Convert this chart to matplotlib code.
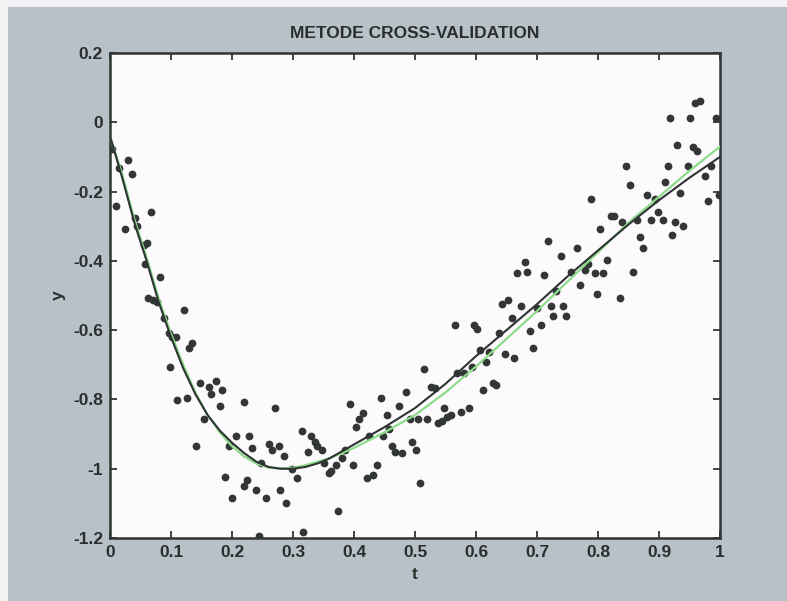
import matplotlib
matplotlib.use("Agg")
import matplotlib.pyplot as plt
from matplotlib.patches import Rectangle

# Observed data (t, y)
t_obs = [0.003, 0.010, 0.014, 0.025, 0.030, 0.036, 0.041, 0.044, 0.055, 0.061,
         0.067, 0.058, 0.063, 0.071, 0.077, 0.082, 0.088, 0.096, 0.102, 0.108,
         0.099, 0.110, 0.121, 0.127, 0.129, 0.135, 0.141, 0.148, 0.154, 0.162,
         0.166, 0.173, 0.180, 0.184, 0.189, 0.195, 0.200, 0.207, 0.219, 0.219,
         0.224, 0.228, 0.232, 0.240, 0.244, 0.248, 0.255, 0.260, 0.266, 0.271,
         0.277, 0.279, 0.285, 0.289, 0.299, 0.306, 0.314, 0.316, 0.324, 0.330,
         0.336, 0.339, 0.347, 0.351, 0.359, 0.363, 0.370, 0.373, 0.380, 0.386,
         0.394, 0.399, 0.404, 0.409, 0.414, 0.421, 0.425, 0.431, 0.437, 0.444,
         0.448, 0.454, 0.458, 0.463, 0.468, 0.474, 0.478, 0.485, 0.491, 0.495,
         0.501, 0.505, 0.509, 0.515, 0.519, 0.526, 0.532, 0.537, 0.544, 0.548,
         0.552, 0.559, 0.565, 0.569, 0.575, 0.581, 0.588, 0.593, 0.597, 0.601,
         0.606, 0.611, 0.616, 0.622, 0.628, 0.633, 0.638, 0.643, 0.647, 0.652,
         0.659, 0.663, 0.667, 0.674, 0.680, 0.684, 0.688, 0.694, 0.700, 0.707,
         0.712, 0.718, 0.723, 0.726, 0.731, 0.740, 0.743, 0.748, 0.756, 0.766,
         0.770, 0.778, 0.784, 0.789, 0.795, 0.799, 0.804, 0.809, 0.815, 0.822,
         0.827, 0.836, 0.840, 0.846, 0.852, 0.858, 0.864, 0.869, 0.874, 0.881,
         0.887, 0.893, 0.899, 0.906, 0.910, 0.914, 0.918, 0.922, 0.926, 0.930,
         0.934, 0.940, 0.947, 0.951, 0.955, 0.959, 0.963, 0.967, 0.975, 0.981,
         0.986, 0.994, 0.998]
y_obs = [-0.077, -0.243, -0.132, -0.309, -0.110, -0.149, -0.276, -0.298, -0.353, -0.348,
         -0.259, -0.409, -0.508, -0.514, -0.519, -0.447, -0.564, -0.608, -0.619, -0.619,
         -0.707, -0.802, -0.541, -0.796, -0.652, -0.636, -0.934, -0.752, -0.857, -0.763,
         -0.785, -0.746, -0.818, -0.774, -1.023, -0.934, -1.084, -0.907, -0.807, -1.051,
         -1.034, -0.907, -0.940, -1.062, -1.194, -0.984, -1.084, -0.929, -0.945, -0.824,
         -0.934, -1.062, -0.962, -1.100, -1.001, -1.028, -0.890, -1.183, -0.951, -0.907,
         -0.923, -0.934, -0.945, -0.984, -1.012, -1.006, -0.990, -1.123, -0.968, -0.945,
         -0.813, -0.990, -0.879, -0.857, -0.840, -1.028, -0.907, -1.017, -0.990, -0.796,
         -0.907, -0.846, -0.885, -0.934, -0.951, -0.818, -0.956, -0.779, -0.857, -0.923,
         -0.945, -0.857, -1.040, -0.713, -0.857, -0.763, -0.768, -0.868, -0.862, -0.824,
         -0.851, -0.846, -0.586, -0.724, -0.835, -0.724, -0.824, -0.707, -0.586, -0.597,
         -0.658, -0.774, -0.691, -0.663, -0.752, -0.757, -0.608, -0.525, -0.669, -0.514,
         -0.564, -0.680, -0.436, -0.530, -0.403, -0.431, -0.602, -0.652, -0.536, -0.586,
         -0.442, -0.342, -0.530, -0.558, -0.486, -0.387, -0.530, -0.558, -0.431, -0.364,
         -0.470, -0.425, -0.409, -0.221, -0.436, -0.497, -0.309, -0.436, -0.398, -0.270,
         -0.270, -0.508, -0.287, -0.126, -0.182, -0.431, -0.281, -0.331, -0.364, -0.209,
         -0.281, -0.221, -0.259, -0.281, -0.171, -0.126, 0.012, -0.326, -0.287, -0.066,
         -0.204, -0.298, -0.126, 0.012, -0.071, 0.056, -0.082, 0.062, -0.154, -0.226,
         -0.126, 0.012, -0.209]

# Cross-validation estimate (dark curve)
t_fit = [0.00, 0.02, 0.04, 0.06, 0.08, 0.10, 0.12, 0.14, 0.16, 0.18, 0.20,
         0.22, 0.24, 0.26, 0.28, 0.30, 0.32, 0.34, 0.36, 0.38, 0.40, 0.45,
         0.50, 0.55, 0.60, 0.65, 0.70, 0.75, 0.80, 0.85, 0.90, 0.95, 1.00]
y_cv = [-0.04, -0.16, -0.29, -0.40, -0.52, -0.62, -0.71, -0.785, -0.845, -0.89, -0.925,
        -0.955, -0.98, -0.995, -1.0, -1.0, -0.995, -0.985, -0.97, -0.95, -0.93, -0.88,
        -0.825, -0.755, -0.675, -0.60, -0.525, -0.445, -0.37, -0.295, -0.225, -0.16, -0.10]
# Reference curve (green)
y_true = [-0.04, -0.15, -0.28, -0.39, -0.51, -0.61, -0.70, -0.78, -0.845, -0.895, -0.935,
          -0.965, -0.985, -0.997, -1.0, -0.997, -0.99, -0.98, -0.97, -0.955, -0.94, -0.895,
          -0.845, -0.78, -0.705, -0.625, -0.545, -0.46, -0.375, -0.29, -0.215, -0.14, -0.07]

x_ticks = [0, 0.1, 0.2, 0.3, 0.4, 0.5, 0.6, 0.7, 0.8, 0.9, 1]
x_tick_labels = ["0", "0.1", "0.2", "0.3", "0.4", "0.5", "0.6", "0.7", "0.8", "0.9", "1"]
y_ticks = [0.2, 0, -0.2, -0.4, -0.6, -0.8, -1, -1.2]
y_tick_labels = ["0.2", "0", "-0.2", "-0.4", "-0.6", "-0.8", "-1", "-1.2"]

font = ["Liberation Sans Narrow", "Liberation Sans", "DejaVu Sans"]
plt.rcParams["font.family"] = font

W, H = 787, 601
fig = plt.figure(figsize=(W / 100, H / 100), dpi=100, facecolor="#f4f2f5")
fig.add_artist(Rectangle((8 / W, 0), 1 - 8 / W, 1 - 7 / H, transform=fig.transFigure,
                         facecolor="#b8c1c7", edgecolor="none", zorder=-10))

ax = fig.add_axes([110 / W, (H - 538) / H, 610 / W, 485 / H])
ax.set_zorder(5)
ax.set_facecolor("#fdfafd")

ax.plot(t_obs, y_obs, "o", color="#333636", markersize=5.6, markeredgewidth=0, zorder=3)
ax.plot(t_fit, y_true, "-", color="#8ddc8a", linewidth=1.6, zorder=4)
ax.plot(t_fit, y_cv, "-", color="#2e3433", linewidth=1.5, zorder=5)

ax.set_xlim(0, 1)
ax.set_ylim(-1.2, 0.2)
ax.set_xticks(x_ticks)
ax.set_xticklabels(x_tick_labels)
ax.set_yticks(y_ticks)
ax.set_yticklabels(y_tick_labels)
ax.tick_params(direction="in", length=5, width=1.3, colors="#2f3535",
               top=True, right=True, labelsize=12.5, pad=5)
for lab in ax.get_xticklabels() + ax.get_yticklabels():
    lab.set_fontweight("bold")
    lab.set_color("#2a2e2e")
for sp in ax.spines.values():
    sp.set_linewidth(1.8)
    sp.set_color("#2f3535")

ax.set_title("METODE CROSS-VALIDATION", fontsize=12.5, fontweight="bold",
             color="#2a2e2e", pad=11)
ax.set_xlabel("t", fontsize=12.5, fontweight="bold", color="#2a2e2e", labelpad=5)
ax.set_ylabel("y", fontsize=12.5, fontweight="bold", color="#2a2e2e", labelpad=5)

fig.savefig("out.png", dpi=100, facecolor=fig.get_facecolor())
